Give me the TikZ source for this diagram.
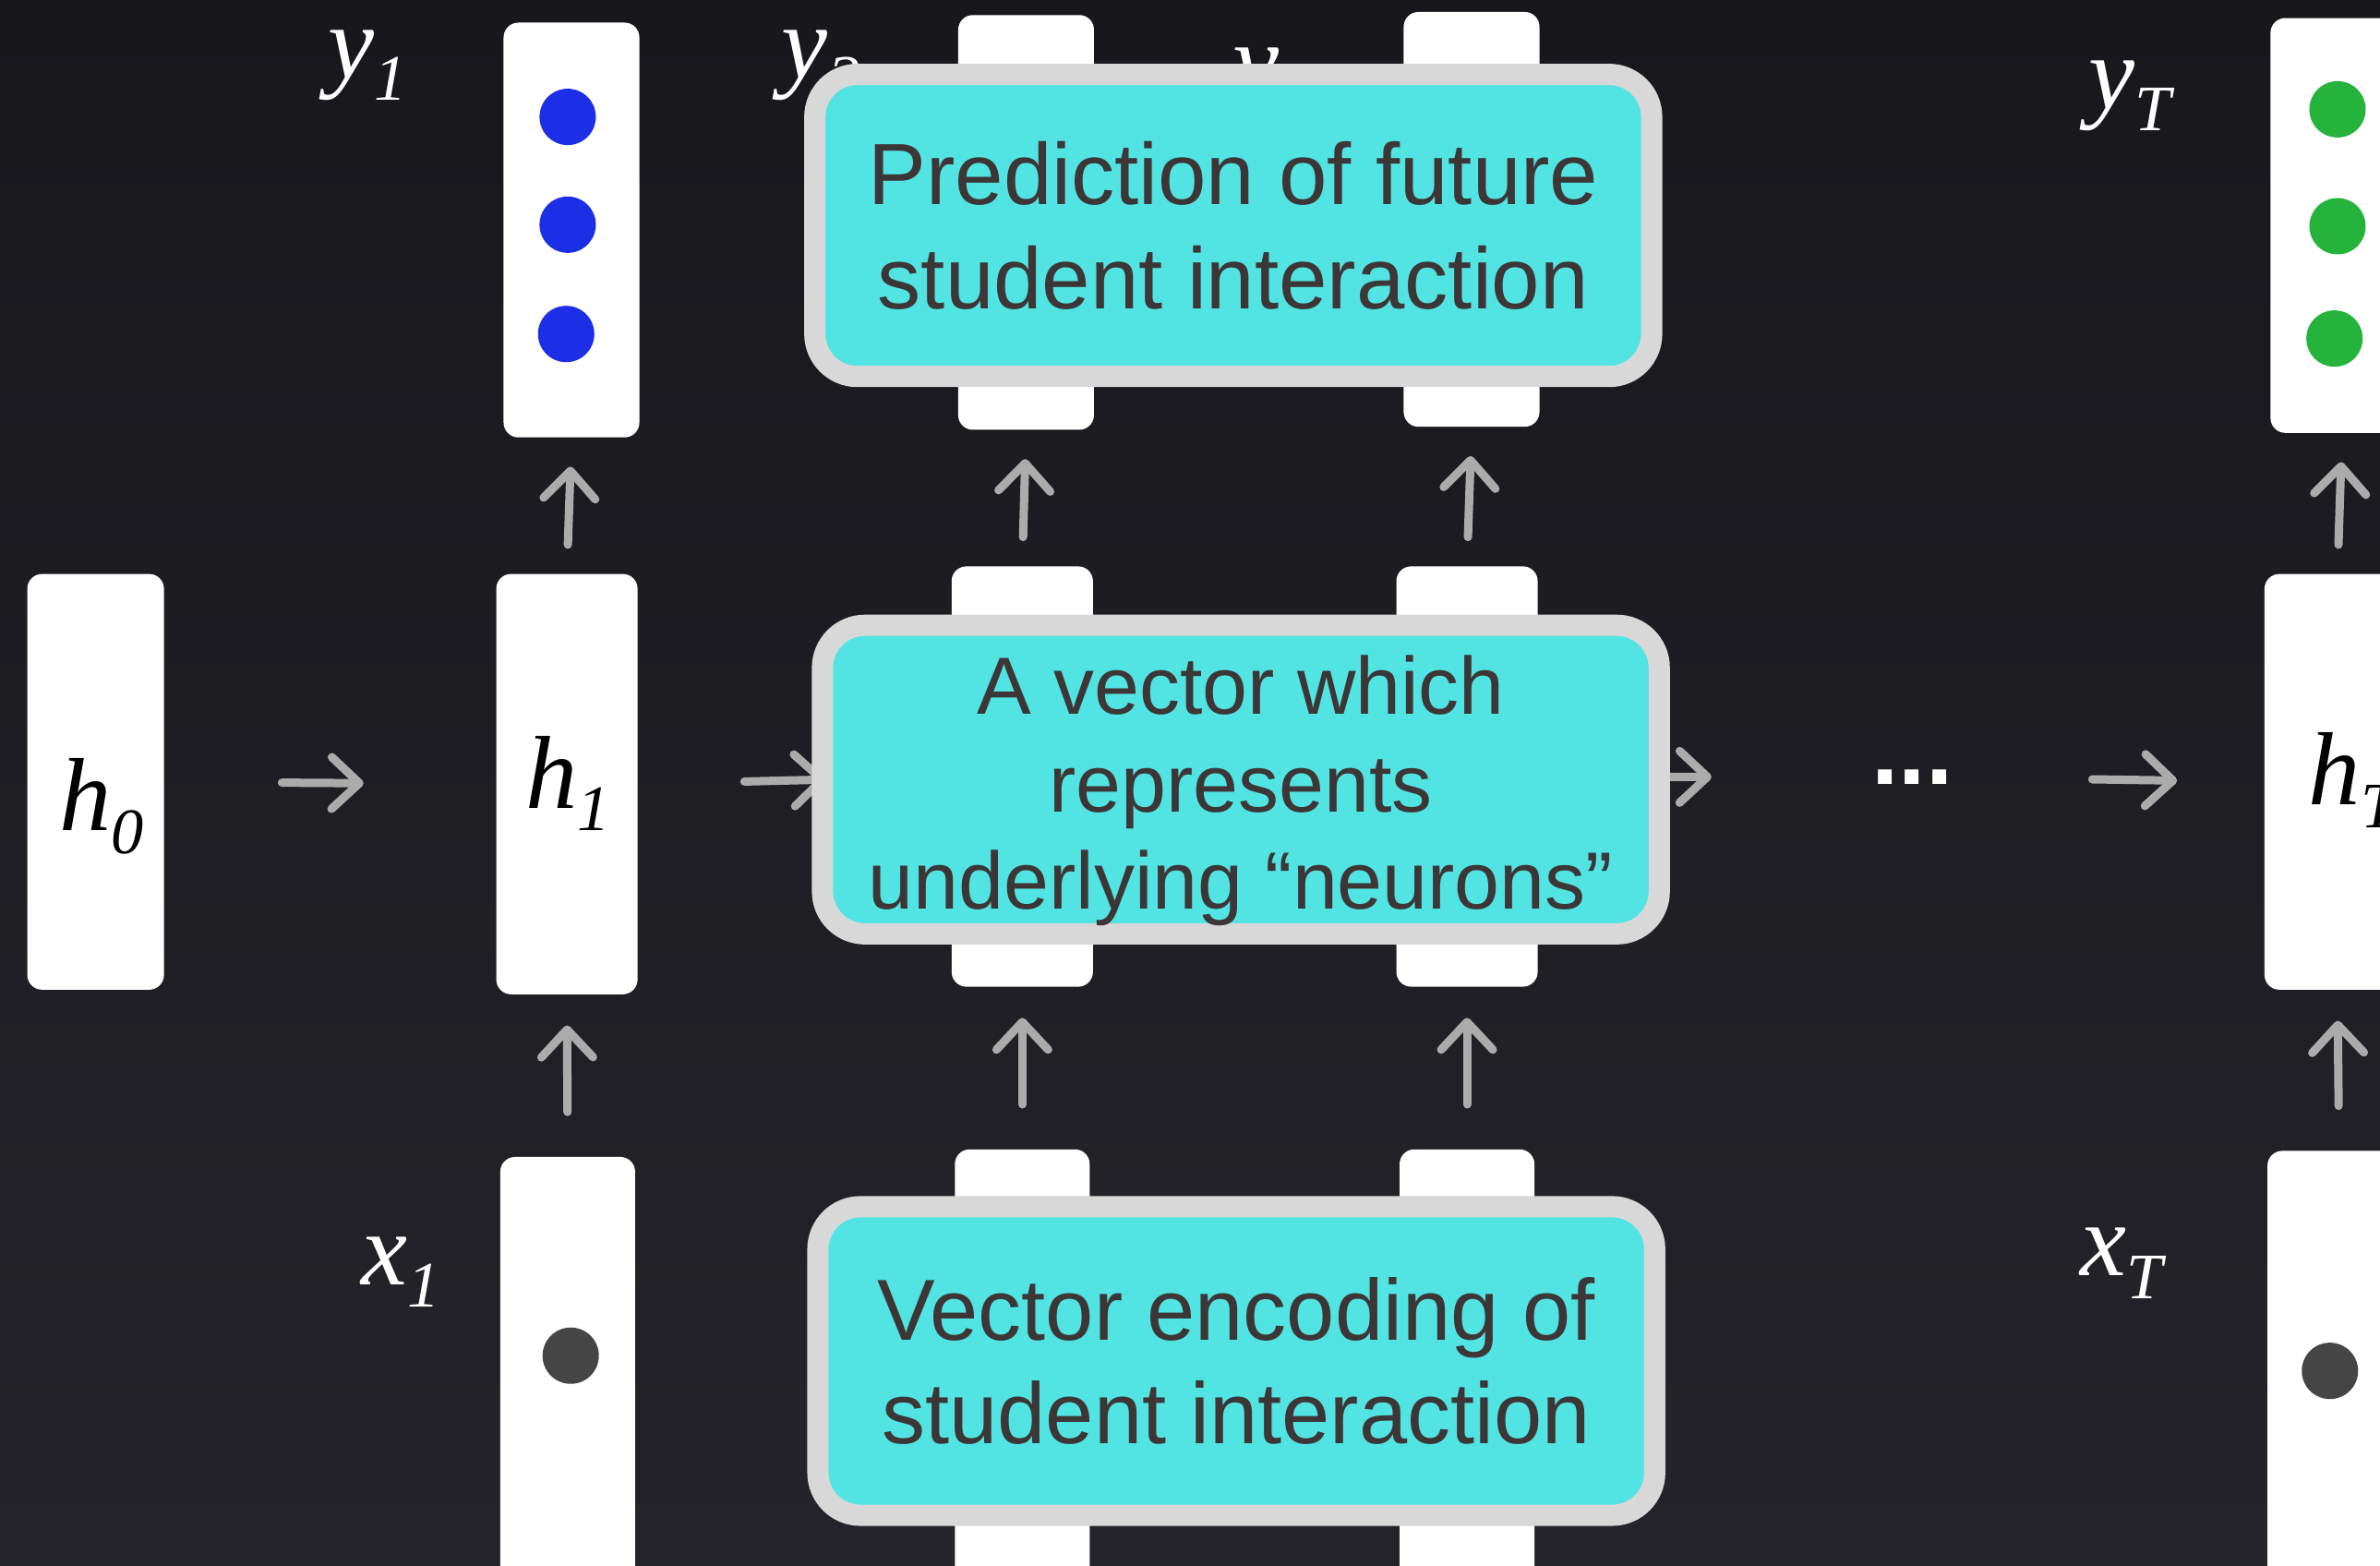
\documentclass[tikz,border=0pt]{standalone}
\usepackage{fontspec}
\newfontfamily\csans{Liberation Sans}
\newfontfamily\lserif{Liberation Serif}
\usetikzlibrary{arrows.meta}
\definecolor{bgtop}{HTML}{18171C}
\definecolor{bgbot}{HTML}{25242A}
\definecolor{calloutfill}{HTML}{52E3E3}
\definecolor{calloutborder}{HTML}{D8D8D8}
\definecolor{callouttext}{HTML}{3D3636}
\definecolor{arrowgray}{HTML}{ABABAB}
\definecolor{dotblue}{HTML}{1C2FE6}
\definecolor{dotgreen}{HTML}{25B33C}
\definecolor{dotgray}{HTML}{454545}
\newcommand\veclab[2]{{\lserif\itshape #1\raisebox{-7pt}{\fontsize{20}{20}\selectfont #2}}}
\begin{document}
\begin{tikzpicture}[x=0.01644cm, y=-0.01644cm,
  vec/.style={fill=white, rounded corners=0.16cm, inner sep=0pt, minimum width=1.47cm, minimum height=4.49cm},
  hvec/.style={vec, minimum width=1.53cm, minimum height=4.55cm},
  xvec/.style={vec, minimum width=1.46cm, minimum height=4.73cm},
  dot/.style={circle, inner sep=0pt, minimum size=0.61cm},
  lab/.style={inner sep=0pt, text=white, font=\fontsize{32}{32}\selectfont},
  hlab/.style={inner sep=0pt, text=black, font=\fontsize{32}{32}\selectfont},
  arr/.style={draw=arrowgray, line width=0.09cm, line cap=round,
    -{Straight Barb[length=0.3cm,width=0.56cm,round]}},
  upy/.style={arr, shorten <=0.31cm, shorten >=0.31cm},
  upx/.style={arr, shorten <=0.48cm, shorten >=0.33cm},
  callout/.style={draw=calloutborder, fill=calloutfill, line width=0.23cm,
    rounded corners=0.46cm, minimum width=9.06cm, minimum height=3.27cm,
    inner sep=0pt, align=center, text=callouttext},
  calltext/.style={inner sep=0pt, align=center, text=callouttext},
]
\useasboundingbox (0,0) rectangle (1568,1031);
\clip (0,0) rectangle (1568,1031);
\shade[top color=bgtop, bottom color=bgbot] (0,0) rectangle (1568,1031);

% vectors
\node[vec, minimum width=1.48cm, minimum height=4.50cm] (h0) at (63,515) {};
\node[vec] (y1) at (376.5,151.5) {};
\node[hvec] (h1) at (373.5,516.5) {};
\node[xvec] (x1) at (374,906) {};
\node[vec] (y2) at (676,146.5) {};
\node[hvec] (h2) at (673.5,511.5) {};
\node[xvec] (x2) at (673.5,901) {};
\node[vec] (y3) at (969.5,144.5) {};
\node[hvec] (h3) at (966.5,511.5) {};
\node[xvec] (x3) at (966.5,901) {};
\node[vec, minimum width=1.55cm] (yT) at (1543,148.5) {};
\node[vec, minimum width=1.58cm, minimum height=4.50cm] (hT) at (1540,515) {};
\node[xvec, minimum width=1.55cm] (xT) at (1541,902) {};

% dots
\node[dot, fill=dotblue] (b1) at (374,77) {};
\node[dot, fill=dotblue] (b2) at (374,148) {};
\node[dot, fill=dotblue] (b3) at (373,220) {};
\node[dot, fill=dotgreen] (g1) at (1540,72) {};
\node[dot, fill=dotgreen] (g2) at (1540,149) {};
\node[dot, fill=dotgreen] (g3) at (1538,223) {};
\node[dot, fill=dotgray] (k1) at (376,893) {};
\node[dot, fill=dotgray] (kT) at (1535,903) {};

% labels
\node[lab] (ly1) at (242,43) {\veclab{y}{1}};
\node[lab] (ly2) at (541,43) {\veclab{y}{2}};
\node[lab] (ly3) at (838,55) {\veclab{y}{3}};
\node[lab] (lyT) at (1403,63) {\veclab{y}{T}};
\node[lab] (lx1) at (264,838) {\veclab{x}{1}};
\node[lab] (lxT) at (1398,832) {\veclab{x}{T}};
\node[hlab] (lh0) at (67,531) {\veclab{h}{0}};
\node[hlab] (lh1) at (374,516) {\veclab{h}{1}};
\node[hlab] (lhT) at (1550,514) {\veclab{h}{T}};

\node[inner sep=0pt, text=white, font=\csans\bfseries\fontsize{30}{30}\selectfont] (dots) at (1260,512) {...};

% arrows
\draw[arr, shorten <=1.27cm, shorten >=1.43cm] (h0.east) -- (h1.west);
\draw[arr, shorten <=1.15cm, shorten >=1.35cm] (h1.east) -- (h2.west);
\draw[arr, shorten <=1.15cm, shorten >=1.23cm] (h2.east) -- (h3.west);
\draw[arr, shorten <=0.99cm, shorten >=1.73cm] (h3.east) -- (dots.west);
\draw[arr, shorten <=1.50cm, shorten >=0.94cm] (dots.east) -- (hT.west);

\draw[upy] (h1.north) -- (y1.south);
\draw[upx] (x1.north) -- (h1.south);
\draw[upy] (h2.north) -- (y2.south);
\draw[upx] (x2.north) -- (h2.south);
\draw[upy] (h3.north) -- (y3.south);
\draw[upx] (x3.north) -- (h3.south);
\draw[upy] (hT.north) -- (yT.south);
\draw[upx] (xT.north) -- (hT.south);

% callouts
\node[callout, font=\csans\fontsize{26.8}{32.3}\selectfont] (c1) at (812.5,148.5)
  {Prediction of future\\student interaction};
\node[callout, minimum height=3.34cm] (c2) at (817.5,513.5) {};
\node[calltext, font=\csans\fontsize{25}{30}\selectfont] (c2t) at (817.5,521)
  {A vector which\\represents\\underlying “neurons”};
\node[callout, minimum height=3.34cm, font=\csans\fontsize{26.7}{31.8}\selectfont] (c3) at (814.5,896.5)
  {Vector encoding of\\student interaction};
\end{tikzpicture}
\end{document}
